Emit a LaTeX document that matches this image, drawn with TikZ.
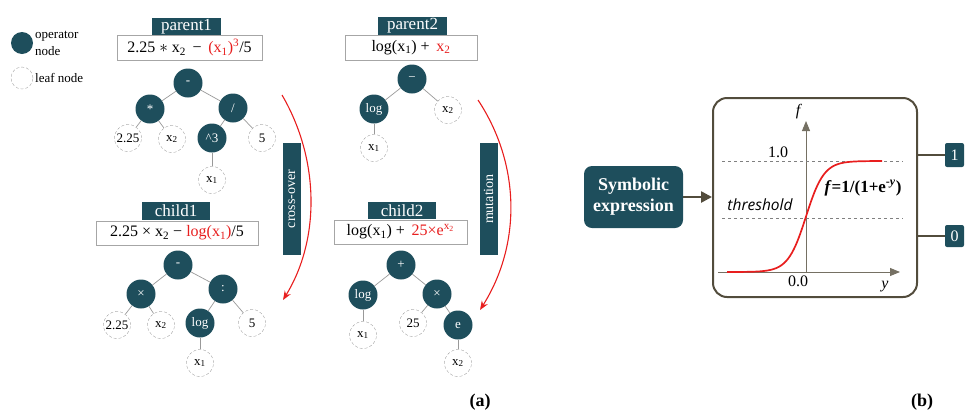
\documentclass[tikz,border=0pt]{standalone}
\usepackage{fontspec}
\setmainfont{Liberation Serif}
\newfontfamily\osans{Open Sans}
\usetikzlibrary{arrows.meta}
\definecolor{deepteal}{RGB}{30,78,92}
\definecolor{mud}{RGB}{82,76,60}
\definecolor{hot}{RGB}{232,30,30}
\begin{document}
\begin{tikzpicture}[x=1pt, y=-1pt,
        op/.style={circle, fill=deepteal, text=white, minimum size=29pt, inner sep=0pt,
                   font=\fontsize{13}{13}\selectfont},
        lf/.style={circle, draw=gray!70, densely dashed, fill=white, minimum size=27pt,
                   inner sep=0pt, font=\fontsize{13}{13}\selectfont},
        tag/.style={fill=deepteal, text=white, inner sep=0pt, font=\fontsize{17}{17}\selectfont},
        fx/.style={draw=gray!70, fill=white, inner sep=0pt, font=\fontsize{16}{16}\selectfont},
        br/.style={gray!80, line width=0.7pt},
        evo/.style={hot, line width=1.1pt, -{Stealth[length=9pt, width=7pt]}},
        vtag/.style={tag, rotate=90, minimum width=112pt, minimum height=18pt,
                     font=\fontsize{14}{14}\selectfont},
        lab/.style={font=\fontsize{16}{16}\selectfont}
    ]
    \useasboundingbox (0,0) rectangle (973,413);

    % legend
    \node[op, minimum size=22pt] (kop) at (22,43) {};
    \node[anchor=west, align=left, inner sep=0pt, font=\fontsize{13}{17}\selectfont] (kopt) at (35,43) {operator\\node};
    \node[lf, minimum size=22pt] (klf) at (22,78) {};
    \node[anchor=west, inner sep=0pt, font=\fontsize{13}{13}\selectfont] (klft) at (35,78) {leaf node};

    % parent1
    \node[tag, minimum width=69pt, minimum height=17pt] (t1) at (186.5,26.5) {parent1};
    \node[fx, minimum width=145pt, minimum height=25pt] (f1) at (189.5,47.5)
        {2.25 $\ast$ x\textsubscript{2} \,−\, \textcolor{hot}{(x\textsubscript{1})\textsuperscript{3}}/5};
    \node[op] (p1r) at (188,83)  {-};
    \node[op] (p1m) at (150,109) {*};
    \node[op] (p1d) at (233,108) {/};
    \node[lf] (p1a) at (128,138) {2.25};
    \node[lf] (p1b) at (172,139) {x\textsubscript{2}};
    \node[op] (p1c) at (212,138) {\textasciicircum 3};
    \node[lf] (p1e) at (262,138) {5};
    \node[lf] (p1f) at (212,180) {x\textsubscript{1}};

    % parent2
    \node[tag, minimum width=69pt, minimum height=18pt] (t2) at (412.5,26) {parent2};
    \node[fx, minimum width=132pt, minimum height=25pt] (f2) at (411,47.5)
        {log(x\textsubscript{1}) + \,\textcolor{hot}{x\textsubscript{2}}};
    \node[op] (p2r) at (412,79)  {−};
    \node[op] (p2l) at (374,109) {log};
    \node[lf] (p2x) at (448,110) {x\textsubscript{2}};
    \node[lf] (p2y) at (374,148) {x\textsubscript{1}};

    % child1
    \node[tag, minimum width=68pt, minimum height=18pt] (t3) at (176,211) {child1};
    \node[fx, minimum width=162pt, minimum height=24pt] (f3) at (177,233)
        {2.25 × x\textsubscript{2} − \textcolor{hot}{log(x\textsubscript{1})}/5};
    \node[op] (c1r) at (178,265) {-};
    \node[op] (c1m) at (141,294) {×};
    \node[op] (c1d) at (223,289) {:};
    \node[lf] (c1a) at (117,325) {2.25};
    \node[lf] (c1b) at (161,325) {x\textsubscript{2}};
    \node[op] (c1g) at (200,323) {log};
    \node[lf] (c1e) at (252,323) {5};
    \node[lf] (c1f) at (200,363) {x\textsubscript{1}};

    % child2
    \node[tag, minimum width=68pt, minimum height=17pt] (t4) at (402,210.5) {child2};
    \node[fx, minimum width=133pt, minimum height=24pt] (f4) at (400.5,232)
        {log(x\textsubscript{1}) + \,\textcolor{hot}{25×e\textsuperscript{x\textsubscript{2}}}};
    \node[op] (c2r) at (401,265) {+};
    \node[op] (c2l) at (363,295) {log};
    \node[op] (c2m) at (437,294) {×};
    \node[lf] (c2y) at (363,335) {x\textsubscript{1}};
    \node[lf] (c2n) at (413,323) {25};
    \node[op] (c2e) at (458,325) {e};
    \node[lf] (c2x) at (458,363) {x\textsubscript{2}};

    \foreach \a/\b in {p1r/p1m, p1r/p1d, p1m/p1a, p1m/p1b, p1d/p1c, p1d/p1e, p1c/p1f,
                       p2r/p2l, p2r/p2x, p2l/p2y,
                       c1r/c1m, c1r/c1d, c1m/c1a, c1m/c1b, c1d/c1g, c1d/c1e, c1g/c1f,
                       c2r/c2l, c2r/c2m, c2l/c2y, c2m/c2n, c2m/c2e, c2e/c2x}
        \draw[br] (\a) -- (\b);

    % operators between generations
    \coordinate (xs) at (282,95);
    \coordinate (xe) at (283,300);
    \draw[evo] (xs) .. controls (320,160) and (320,240) .. (xe);
    \node[vtag] (xo) at (292,199) {cross-over};
    \coordinate (ms) at (478,100);
    \coordinate (me) at (480,310);
    \draw[evo] (ms) .. controls (521,165) and (521,245) .. (me);
    \node[vtag] (mu) at (488.5,199) {mutation};

    \node[font=\bfseries\fontsize{18}{18}\selectfont] (la) at (480,402) {(a)};

    % (b) classifier
    \node[fill=deepteal, text=white, rounded corners=8pt, minimum width=99pt, minimum height=62pt,
          align=center, font=\bfseries\fontsize{18}{21}\selectfont] (sym) at (633.5,197) {Symbolic\\expression};
    \node[draw=mud, line width=2pt, rounded corners=14pt, minimum width=204pt, minimum height=199pt] (pan) at (815,197.5) {};
    \draw[mud, line width=2.5pt, -{Triangle[length=11pt, width=11pt]}] (sym.east) -- (sym.east -| pan.west);

    \coordinate (o) at (806,272);
    \coordinate (ytop) at (806,121);
    \coordinate (yl) at (718,272);
    \coordinate (yr) at (900,272);
    \draw[mud!80, line width=0.9pt, -{Triangle[length=10pt, width=8pt]}] (o) -- (ytop);
    \draw[mud!80, line width=0.9pt, -{Triangle[length=10pt, width=8pt]}] (yl) -- (yr);
    \draw[gray, dashed, line width=0.7pt] (722,161) -- (903,161);
    \draw[gray, dashed, line width=0.7pt] (722,218) -- (903,218);
    \draw[hot, line width=1.7pt] plot[domain=727:882, samples=80, smooth] (\x, {272-111/(1+exp(-(\x-806)/9))});

    \node[lab, font=\itshape\fontsize{16}{16}\selectfont] (fl) at (798,112) {f};
    \node[lab, font=\itshape\fontsize{16}{16}\selectfont] (yla) at (885,287) {y};
    \node[lab] (one0) at (778,152) {1.0};
    \node[lab] (zero0) at (798,281) {0.0};
    \node[font=\osans\itshape\fontsize{15.5}{15.5}\selectfont] (thr) at (760,205) {threshold};
    \node[font=\bfseries\fontsize{17}{17}\selectfont] (sig) at (863,188) {\textit{f}=1/(1+e\textsuperscript{-\textit{y}})};

    \node[fill=deepteal, text=white, rounded corners=2pt, minimum width=19pt, minimum height=24pt,
          inner sep=0pt, font=\fontsize{16}{16}\selectfont] (one) at (954.5,155) {1};
    \node[fill=deepteal, text=white, rounded corners=2pt, minimum width=19pt, minimum height=22pt,
          inner sep=0pt, font=\fontsize{16}{16}\selectfont] (zero) at (954.5,236) {0};
    \draw[mud, line width=2pt] (one.west -| pan.east) -- (one.west);
    \draw[mud, line width=2pt] (zero.west -| pan.east) -- (zero.west);

    \node[font=\bfseries\fontsize{18}{18}\selectfont] (lb) at (922,402) {(b)};
\end{tikzpicture}
\end{document}
